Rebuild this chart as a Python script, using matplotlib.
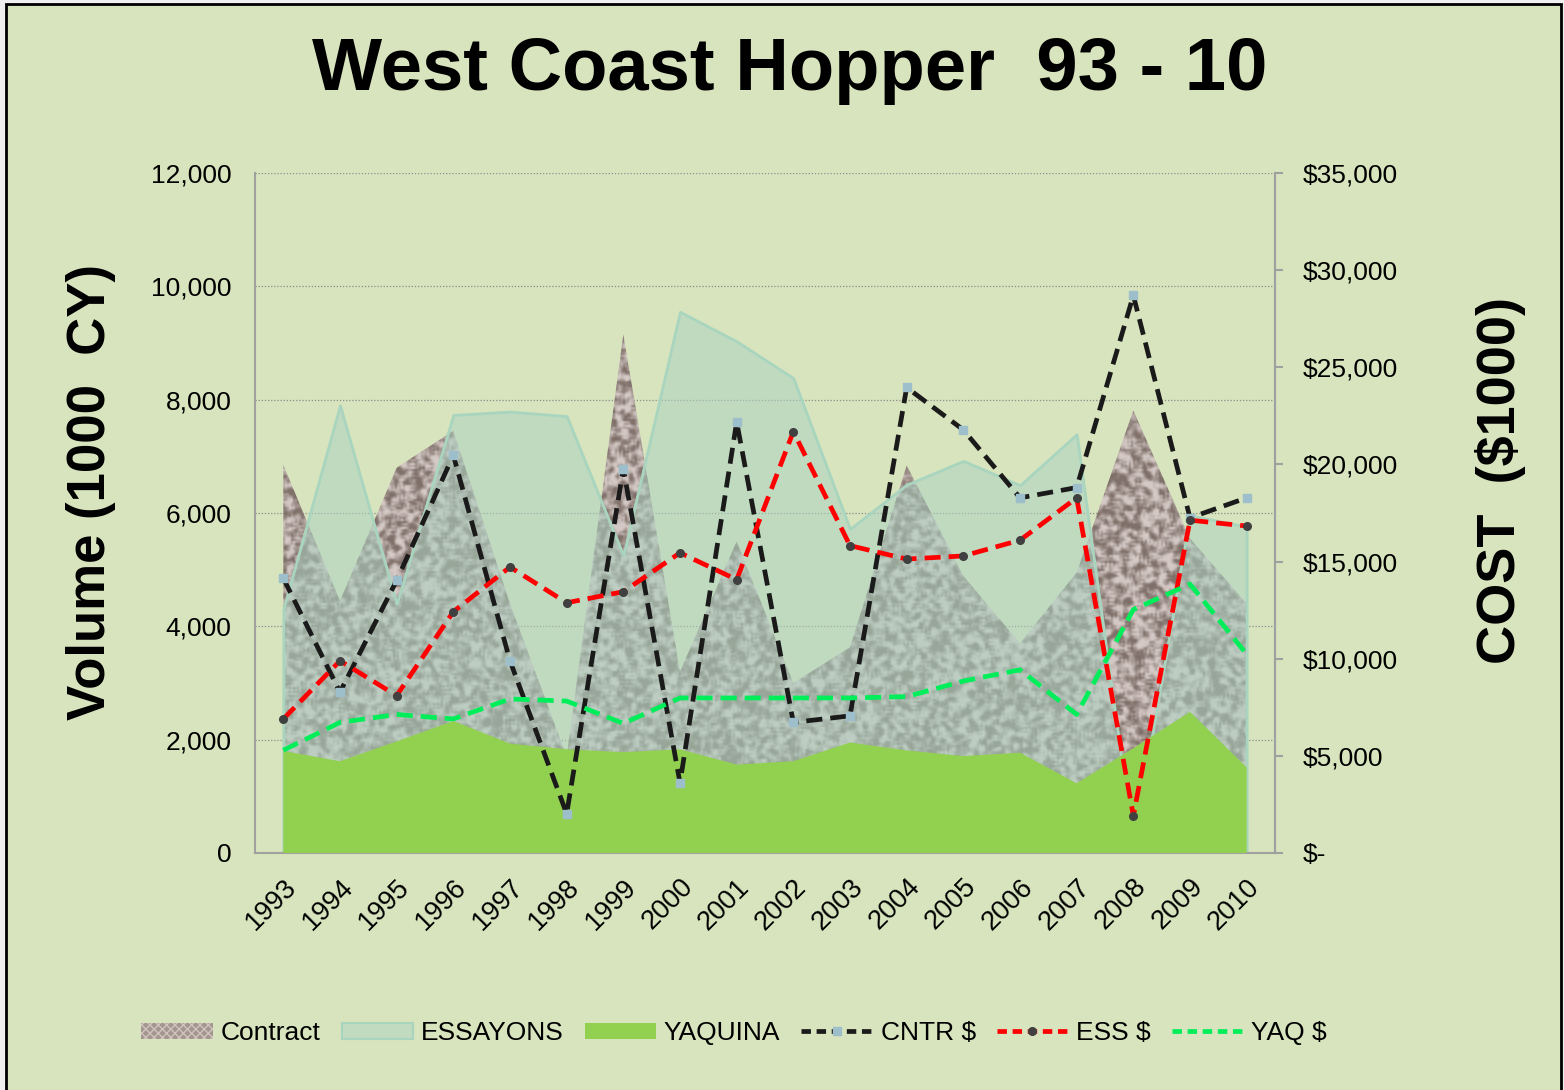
import numpy as np
import matplotlib
matplotlib.use("Agg")
import matplotlib.pyplot as plt
from matplotlib.patches import Patch, Rectangle
from matplotlib.lines import Line2D
from matplotlib.ticker import FixedLocator, FuncFormatter

plt.rcParams['font.family'] = ['Liberation Sans', 'DejaVu Sans']

# ---------------- data ----------------
years = ['1993', '1994', '1995', '1996', '1997', '1998', '1999', '2000', '2001',
         '2002', '2003', '2004', '2005', '2006', '2007', '2008', '2009', '2010']
contract = [6850, 4450, 6800, 7450, 4400, 1700, 9150, 3200, 5500,
            3000, 3630, 6840, 4890, 3700, 4950, 7810, 5550, 4400]
essayons = [4300, 7900, 4400, 7730, 7790, 7710, 5250, 9550, 9030,
            8380, 5720, 6500, 6920, 6490, 7390, 150, 5960, 5760]
yaquina = [1800, 1620, 1970, 2330, 1930, 1830, 1780, 1830, 1560,
           1620, 1950, 1810, 1710, 1770, 1230, 1850, 2490, 1510]
cntr_cost = [14140, 8280, 14030, 20470, 9890, 2020, 19780, 3610, 22190,
             6720, 7060, 23960, 21780, 18280, 18810, 28700, 17250, 18280]
ess_cost = [6900, 9890, 8100, 12420, 14720, 12880, 13450, 15450, 14070,
            21690, 15820, 15130, 15290, 16100, 18280, 1910, 17130, 16830]
yaq_cost = [5290, 6720, 7130, 6900, 7930, 7820, 6670, 7980, 7980,
            7980, 7980, 8050, 8850, 9430, 7130, 12530, 13840, 10230]

vol_ticks = [0, 2000, 4000, 6000, 8000, 10000, 12000]
cost_ticks = [0, 5000, 10000, 15000, 20000, 25000, 30000, 35000]

# ---------------- style ----------------
BG = '#D7E4BD'
W, H = 1564, 1090
fig = plt.figure(figsize=(W / 100, H / 100), dpi=100, facecolor='#F0F0F0')
fig.patches.append(Rectangle((6 / W, -0.05), (1561 - 6) / W, 1.05 - 4 / H,
                             transform=fig.transFigure, facecolor=BG,
                             edgecolor='black', linewidth=2, zorder=-5))

ax = fig.add_axes([255 / W, 1 - 853 / H, (1275 - 255) / W, (853 - 173) / H])
ax.patch.set_visible(False)
x = np.arange(len(years))

# Contract area with a granite-like texture (deterministic integer hash pattern)
cpoly = ax.fill_between(x, 0, contract, facecolor='none', edgecolor='none', zorder=1)
th, tw = 340, 510
ii, jj = np.mgrid[0:th, 0:tw].astype(np.uint64)
n = (ii * np.uint64(374761393) + jj * np.uint64(668265263)) & np.uint64(0xFFFFFFFF)
n = ((n ^ (n >> np.uint64(13))) * np.uint64(1274126177)) & np.uint64(0xFFFFFFFF)
n = n ^ (n >> np.uint64(16))
hsh = n.astype(float) / 2.0 ** 32
sm = sum(np.roll(np.roll(hsh, a, 0), b, 1) for a in (-1, 0, 1) for b in (-1, 0, 1)) / 9
t = np.clip((sm - 0.5) / 0.24 + 0.5, 0, 1)[..., None]
dark = np.array([128, 112, 106]) / 255
light = np.array([212, 201, 197]) / 255
tex = dark * (1 - t) + light * t
im = ax.imshow(tex, extent=(-0.5, len(years) - 0.5, 0, 12000), aspect='auto',
               interpolation='bilinear', zorder=1)
im.set_clip_path(cpoly.get_paths()[0], transform=ax.transData)

# ESSAYONS translucent area
ax.fill_between(x, 0, essayons, facecolor=(172 / 255, 210 / 255, 193 / 255, 0.55),
                edgecolor='#A9D5BF', linewidth=2, zorder=2)
# YAQUINA solid area
ax.fill_between(x, 0, yaquina, facecolor='#92D050', edgecolor='none', zorder=3)

ax.set_xlim(-0.5, len(years) - 0.5)
ax.set_ylim(0, 12000)
ax.yaxis.set_major_locator(FixedLocator(vol_ticks))
ax.yaxis.set_major_formatter(FuncFormatter(lambda v, p: f"{v:,.0f}"))
ax.grid(axis='y', color='#8C8C8C', linestyle=(0, (1, 1.5)), linewidth=0.9)
ax.set_axisbelow(True)
ax.set_xticks(x)
ax.set_xticklabels(years, rotation=45, ha='right', va='top', rotation_mode='anchor')
ax.tick_params(axis='x', length=0, pad=15, labelsize=19.5)
ax.tick_params(axis='y', length=0, pad=17, labelsize=19)
ax.spines['top'].set_visible(False)
for s in ['left', 'bottom', 'right']:
    ax.spines[s].set_color('#A0A0A0')
    ax.spines[s].set_linewidth(1.5)

# cost lines
ax2 = ax.twinx()
ax2.set_ylim(0, 35000)
lw = 3.4
dash = (3.4, 1.7)
ax2.plot(x, cntr_cost, color='#1A1A1A', lw=lw, dashes=dash, marker='s', ms=6,
         mfc='#9DBFCC', mec='#9DBFCC', zorder=4)
ax2.plot(x, ess_cost, color='#FF0000', lw=lw, dashes=dash, marker='o', ms=5.5,
         mfc='#404040', mec='#404040', zorder=5)
ax2.plot(x, yaq_cost, color='#00EE5A', lw=lw, dashes=dash, zorder=6)
ax2.yaxis.set_major_locator(FixedLocator(cost_ticks))
ax2.yaxis.set_major_formatter(FuncFormatter(lambda v, p: "$-" if v == 0 else f"${v:,.0f}"))
ax2.tick_params(axis='y', length=6, width=1.5, color='#A0A0A0', pad=14, labelsize=19)
for s in ['top', 'left', 'bottom']:
    ax2.spines[s].set_visible(False)
ax2.spines['right'].set_color('#A0A0A0')
ax2.spines['right'].set_linewidth(1.5)
for lab in ax2.get_yticklabels():
    lab.set_horizontalalignment('left')

# titles and axis labels
fig.text(790 / W, 1 - 70 / H, 'West Coast Hopper  93 - 10', ha='center', va='center',
         fontsize=53.5, fontweight='bold')
fig.text(91 / W, 1 - 492 / H, 'Volume (1000  CY)', rotation=90, ha='center', va='center',
         fontsize=38, fontweight='bold')
fig.text(1500 / W, 1 - 480 / H, 'COST  ($1000)', rotation=90, ha='center', va='center',
         fontsize=39, fontweight='bold')

# legend
handles = [
    Patch(facecolor='#A39690', edgecolor='#CFC3BB', hatch='xxxx', linewidth=0),
    Patch(facecolor='#C0DBBF', edgecolor='#A9D5BF', linewidth=1.5),
    Patch(facecolor='#92D050', edgecolor='none'),
    Line2D([], [], color='#1A1A1A', lw=lw, dashes=(2, 1.2), marker='s', ms=6,
           mfc='#9DBFCC', mec='#9DBFCC'),
    Line2D([], [], color='#FF0000', lw=lw, dashes=(2, 1.2), marker='o', ms=5.5,
           mfc='#404040', mec='#404040'),
    Line2D([], [], color='#00EE5A', lw=lw, dashes=(2, 1.2)),
]
labels = ['Contract', 'ESSAYONS', 'YAQUINA', 'CNTR $', 'ESS $', 'YAQ $']
fig.legend(handles, labels, loc='center', bbox_to_anchor=(734 / W, 1 - 1033 / H),
           ncol=6, frameon=False, fontsize=19, handlelength=2.7, handleheight=0.55,
           handletextpad=0.3, columnspacing=0.8, numpoints=1)

fig.savefig('out.png', dpi=100, facecolor=fig.get_facecolor())
